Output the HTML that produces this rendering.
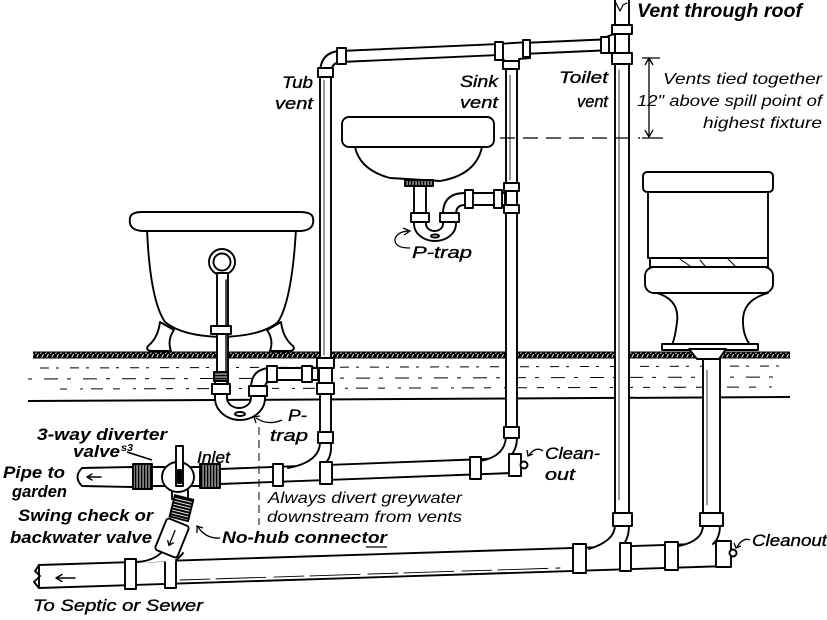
<!DOCTYPE html>
<html><head><meta charset="utf-8"><style>
html,body{margin:0;padding:0;background:#fff;width:827px;height:620px;overflow:hidden}
svg{display:block}
text{font-family:"Liberation Sans",sans-serif;font-style:italic;fill:#000}
.b{font-weight:bold}
.m{stroke:#000;stroke-width:0.35}
</style></head><body>
<svg width="827" height="620" viewBox="0 0 827 620" xmlns="http://www.w3.org/2000/svg">
<defs>
<pattern id="hatch" width="5" height="6" patternUnits="userSpaceOnUse">
<rect width="5" height="6" fill="#000"/><path d="M0.5,6 L3.5,0" stroke="#fff" stroke-width="0.9"/>
</pattern>
<pattern id="thv" width="3" height="4" patternUnits="userSpaceOnUse">
<rect width="3" height="4" fill="#000"/><rect x="1.6" width="0.9" height="4" fill="#fff"/>
</pattern>
<pattern id="thh" width="4" height="3" patternUnits="userSpaceOnUse">
<rect width="4" height="3" fill="#000"/><rect y="1.6" width="4" height="0.9" fill="#fff"/>
</pattern>
</defs>

<!-- FLOOR -->
<rect x="33" y="352" width="757" height="6" fill="url(#hatch)"/>
<line x1="33" y1="352" x2="790" y2="352" stroke="#000" stroke-width="1"/>
<line x1="33" y1="358" x2="790" y2="358" stroke="#000" stroke-width="1"/>
<path d="M28,401 L790,397" stroke="#000" stroke-width="2" fill="none"/>
<g stroke="#000" stroke-width="1" fill="none">
<path d="M40,368 L790,366" stroke-dasharray="9,7,3,11"/>
<path d="M28,379 L785,377" stroke-dasharray="4,12,14,9"/>
<path d="M60,389 L780,387" stroke-dasharray="7,13,3,8,12,10"/>
</g>

<g stroke="#000" stroke-width="1.9" fill="#fff" stroke-linejoin="round" stroke-linecap="round">

<!-- TUB -->
<path d="M160,322 Q158,338 148,346 Q145,351 153,351 L171,351 Q167,340 174,330 Z"/>
<path d="M281,322 Q283,338 293,346 Q296,351 288,351 L270,351 Q274,340 267,330 Z"/>
<path d="M147,229 Q150,300 165,322 Q182,336 221,337 Q262,336 278,322 Q292,300 296,229 Z"/>
<path d="M130,218 Q128,230 142,231 L301,231 Q315,230 313,218 Q312,212 300,212 L142,212 Q131,212 130,218 Z"/>
<circle cx="222" cy="262" r="13"/>
<circle cx="222" cy="262" r="8.5"/>
<rect x="217" y="273" width="11" height="110"/>
<line x1="226" y1="280" x2="226" y2="380" stroke-width="1.4"/>
<rect x="211" y="326" width="20" height="8"/>

<!-- TUB TRAP -->
<path d="M215,381 L215,398 A25,22 0 0 0 265,398 L265,388 Q265,380 275,380 L318,380 L318,368 L272,368 Q251,368 251,388 L251,398 A12,10 0 0 1 227,398 L227,381 Z"/>
<ellipse cx="240" cy="414" rx="5" ry="2"/>
<rect x="214" y="372" width="14" height="9" fill="url(#thh)"/>
<rect x="212" y="384" width="18" height="10"/>
<rect x="249" y="386" width="18" height="10"/>
<rect x="267" y="366" width="10" height="16"/>
<rect x="302" y="366" width="10" height="16"/>

<!-- TUB VENT + TOP VENT PIPE -->
<path d="M320,442 L320,74 Q320,52 340,51 L613,39 L613,50 L340,62 Q331,63 331,74 L331,442 Z"/>
<line x1="324" y1="80" x2="324" y2="355" stroke-width="0.8"/>
<rect x="318" y="68" width="15" height="9"/>
<rect x="337" y="48" width="9" height="16"/>
<rect x="317" y="358" width="17" height="10"/>
<rect x="319" y="368" width="13" height="15"/>
<rect x="317" y="383" width="17" height="11"/>

<!-- SINK VENT -->
<rect x="506" y="58" width="11" height="380"/>
<line x1="510" y1="75" x2="510" y2="180" stroke-width="0.8"/>
<path d="M497,44 L530,42 L530,58 L519,59 L519,62 L504,62 L504,60 L497,60 Z"/>
<rect x="495" y="42" width="8" height="18"/>
<rect x="523" y="40" width="7" height="17"/>
<rect x="503" y="61" width="16" height="8"/>

<!-- STACK -->
<rect x="615" y="-2" width="14" height="517"/>
<line x1="619" y1="70" x2="619" y2="500" stroke-width="0.8"/>
<path d="M616,3 L620,11 L623,5 L627,3" fill="none" stroke-width="1.2"/>
<rect x="612" y="25" width="20" height="9"/>
<path d="M608,36 L615,34 L615,53 L608,53 Z"/>
<rect x="601" y="37" width="8" height="16"/>
<rect x="612" y="53" width="20" height="11"/>

<!-- SINK -->
<path d="M355,147 Q360,170 390,178 L440,181 Q476,175 482,147 Z"/>
<rect x="342" y="117" width="152" height="30" rx="7"/>
<rect x="405" y="180" width="28" height="6" fill="url(#thv)"/>
<rect x="414" y="186" width="12" height="28"/>
<path d="M414,221 L414,224 A21,17 0 0 0 456,224 L456,221 L443,221 L443,224 A8.5,7 0 0 1 426,224 L426,221 Z"/>
<ellipse cx="435" cy="236" rx="4" ry="1.6"/>
<path d="M443,214 Q443,193 465,193 L505,193 L505,205 L465,205 Q456,205 456,214 Z"/>
<rect x="411" y="213" width="18" height="9"/>
<rect x="440" y="213" width="19" height="9"/>
<rect x="465" y="190" width="8" height="18"/>
<rect x="494" y="190" width="8" height="18"/>
<rect x="504" y="183" width="15" height="8"/>
<rect x="504" y="205" width="15" height="8"/>

<!-- TOILET -->
<rect x="648" y="192" width="120" height="66"/>
<rect x="643" y="172" width="130" height="20" rx="4"/>
<rect x="650" y="258" width="118" height="9"/>
<path d="M680,259 L690,266 M728,259 L735,266 M700,260 L705,266" fill="none" stroke-width="1"/>
<path d="M657,293 Q680,300 677,322 Q675,338 672,345 L750,345 Q743,335 743,322 Q742,300 768,293 Z"/>
<rect x="645" y="267" width="128" height="26" rx="9"/>
<rect x="662" y="344" width="96" height="6"/>
<path d="M689,349 L726,349 L719,359 L697,359 Z"/>
<rect x="703" y="359" width="17" height="155"/>
<line x1="707" y1="370" x2="707" y2="505" stroke-width="0.8"/>

<!-- MAIN DRAIN -->
<path d="M39,565 L728,543 L728,566 L39,588 Z"/>
<path d="M39,565 L35,571 L40,576 L34,582 L39,588" fill="none"/>
<path d="M75,578 L57,578 M62,574.5 L56,578 L62,581.5" fill="none" stroke-width="1.5"/>
<line x1="180" y1="580" x2="560" y2="568" stroke-width="0.9" stroke-dasharray="30,6,50,8"/>

<!-- stack sweep -->
<path d="M615,525 Q615,541 589,549 L624,548 L629,540 L629,525 Z" stroke="none"/>
<path d="M615,525 Q615,541 589,549" fill="none"/>
<path d="M629,525 Q629,540 621,547" fill="none"/>
<rect x="613" y="513" width="19" height="13"/>
<!-- toilet sweep -->
<path d="M703,525 Q703,541 679,546 L716,545 L720,537 L720,525 Z" stroke="none"/>
<path d="M703,525 Q703,541 679,546" fill="none"/>
<path d="M720,525 Q720,538 713,544" fill="none"/>
<rect x="700" y="513" width="23" height="13"/>
<!-- drain couplings -->
<rect x="125" y="559" width="11" height="30"/>
<rect x="165" y="558" width="11" height="30"/>
<rect x="573" y="544" width="13" height="29"/>
<rect x="620" y="543" width="11" height="28"/>
<rect x="665" y="542" width="13" height="28"/>
<rect x="716" y="541" width="15" height="26"/>
<circle cx="733" cy="553" r="3.5"/>

<!-- BRANCH -->
<path d="M220,469 L512,458 L512,473 L220,484 Z"/>
<!-- tub vent sweep -->
<path d="M320,442 Q320,462 288,468 L331,466 L331,442 Z" stroke="none"/>
<path d="M320,442 Q320,462 288,468" fill="none"/>
<path d="M331,442 Q332,458 325,463" fill="none"/>
<rect x="318" y="432" width="15" height="11"/>
<!-- sink vent sweep -->
<path d="M506,437 Q505,456 481,461 L511,462 L517,455 L517,437 Z" stroke="none"/>
<path d="M506,437 Q505,456 481,461" fill="none"/>
<path d="M517,437 Q517,450 510,456" fill="none"/>
<rect x="504" y="427" width="15" height="11"/>
<rect x="273" y="464" width="10" height="22"/>
<rect x="320" y="462" width="12" height="22"/>
<rect x="470" y="457" width="11" height="22"/>
<rect x="509" y="454" width="12" height="22"/>
<circle cx="524" cy="465" r="3.5"/>

<!-- DIVERTER -->
<path d="M133,467 L82,468 Q73,477 82,486 L133,487 Z"/>
<path d="M101,477 L88,477 M92,474 L87,477 L92,480" fill="none" stroke-width="1.4"/>
<rect x="150" y="467" width="52" height="19"/>
<rect x="133" y="464" width="19" height="25" fill="url(#thv)"/>
<rect x="172" y="487" width="16" height="12"/>
<ellipse cx="178" cy="477" rx="16" ry="15"/>
<rect x="176" y="446" width="7" height="40"/>
<rect x="178" y="470" width="3" height="13" fill="#000"/>
<rect x="200" y="464" width="20" height="24" fill="url(#thv)"/>
<rect x="172" y="497" width="19" height="22" fill="url(#thh)" transform="rotate(14 181 508)"/>
<path d="M163,552 Q152,562 133,563 L176,561 L183,553 Z" stroke="none"/>
<path d="M162,552 Q153,561 137,562" fill="none"/>
<path d="M183,553 Q179,558 176,560" fill="none"/>
<g transform="rotate(22 172 538)">
<rect x="160" y="521" width="24" height="34" rx="3"/>
<path d="M172,530 L172,546 M169,542 L172,546 L175,542" fill="none" stroke-width="1.3"/>
</g>
</g>

<!-- annotations -->
<g stroke="#000" fill="none" stroke-width="1.3">
<path d="M500,138 L640,138" stroke-dasharray="15,8"/>
<path d="M642,58 L660,58 M642,138 L663,138 M649,59 L649,137 M645,65 L649,58 L653,65 M645,130 L649,137 L653,130"/>
<path d="M259,427 L259,525" stroke-dasharray="8,5" stroke-width="1"/>
<path d="M410,248 Q394,248 395,239 Q397,232 408,231"/>
<path d="M403,228 L410,231 L404,235"/>
<path d="M282,420 Q268,426 256,418"/>
<path d="M256,423 L254,417 L260,416"/>
<path d="M543,451 Q536,446 529,455"/>
<path d="M527,450 L528,456 L533,454"/>
<path d="M750,540 Q743,537 737,547"/>
<path d="M734,543 L736,548 L741,546"/>
<path d="M220,538 Q206,539 198,527"/>
<path d="M197,533 L197,526 L203,528"/>
<path d="M127,452 L152,460" stroke-width="1.6"/>
<path d="M366,547 L387,547"/>
</g>

<!-- TEXT -->
<text x="637" y="17" class="b" font-size="19" textLength="165" lengthAdjust="spacingAndGlyphs">Vent through roof</text>
<text x="282" y="88" class="m" font-size="17" textLength="31" lengthAdjust="spacingAndGlyphs">Tub</text>
<text x="275" y="109" class="m" font-size="17" textLength="38" lengthAdjust="spacingAndGlyphs">vent</text>
<text x="460" y="87" class="m" font-size="17" textLength="38" lengthAdjust="spacingAndGlyphs">Sink</text>
<text x="460" y="108" class="m" font-size="17" textLength="38" lengthAdjust="spacingAndGlyphs">vent</text>
<text x="559" y="83" class="m" font-size="17" textLength="49" lengthAdjust="spacingAndGlyphs">Toilet</text>
<text x="577" y="107" class="m" font-size="17" textLength="31" lengthAdjust="spacingAndGlyphs">vent</text>
<text x="663" y="84" font-size="16" textLength="159" lengthAdjust="spacingAndGlyphs">Vents tied together</text>
<text x="637" y="106" font-size="16" textLength="185" lengthAdjust="spacingAndGlyphs">12" above spill point of</text>
<text x="703" y="128" font-size="16" textLength="119" lengthAdjust="spacingAndGlyphs">highest fixture</text>
<text x="412" y="258" class="m" font-size="17" textLength="60" lengthAdjust="spacingAndGlyphs">P-trap</text>
<text x="288" y="421" class="m" font-size="17" textLength="19" lengthAdjust="spacingAndGlyphs">P-</text>
<text x="270" y="441" class="m" font-size="17" textLength="38" lengthAdjust="spacingAndGlyphs">trap</text>
<text x="37" y="440" class="b" font-size="17" textLength="130" lengthAdjust="spacingAndGlyphs">3-way diverter</text>
<text x="73" y="457" class="b" font-size="17" textLength="47" lengthAdjust="spacingAndGlyphs">valve</text>
<text x="121" y="451" class="b" font-size="10" textLength="12" lengthAdjust="spacingAndGlyphs">s3</text>
<text x="197" y="463" class="m" font-size="17" textLength="33" lengthAdjust="spacingAndGlyphs">Inlet</text>
<text x="3" y="478" class="b" font-size="17" textLength="62" lengthAdjust="spacingAndGlyphs">Pipe to</text>
<text x="12" y="497" class="b" font-size="17" textLength="55" lengthAdjust="spacingAndGlyphs">garden</text>
<text x="545" y="459" class="m" font-size="17" textLength="55" lengthAdjust="spacingAndGlyphs">Clean-</text>
<text x="545" y="480" class="m" font-size="17" textLength="30" lengthAdjust="spacingAndGlyphs">out</text>
<text x="268" y="503" font-size="16" textLength="194" lengthAdjust="spacingAndGlyphs">Always divert greywater</text>
<text x="267" y="522" font-size="16" textLength="195" lengthAdjust="spacingAndGlyphs">downstream from vents</text>
<text x="18" y="521" class="b" font-size="17" textLength="135" lengthAdjust="spacingAndGlyphs">Swing check or</text>
<text x="10" y="543" class="b" font-size="17" textLength="142" lengthAdjust="spacingAndGlyphs">backwater valve</text>
<text x="222" y="543" class="b" font-size="17" textLength="165" lengthAdjust="spacingAndGlyphs">No-hub connector</text>
<text x="752" y="546" class="m" font-size="17" textLength="75" lengthAdjust="spacingAndGlyphs">Cleanout</text>
<text x="33" y="611" class="m" font-size="17" textLength="170" lengthAdjust="spacingAndGlyphs">To Septic or Sewer</text>
</svg>
</body></html>
